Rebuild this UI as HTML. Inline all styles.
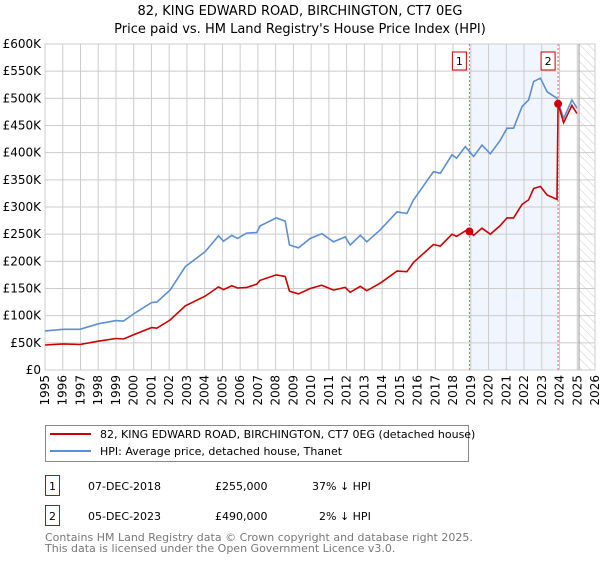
<!DOCTYPE html>
<html><head><meta charset="utf-8"><style>
body{margin:0;background:#fff;font-family:"Liberation Sans","DejaVu Sans",sans-serif;}
text{font-family:"DejaVu Sans","Liberation Sans",sans-serif;}
</style></head><body>
<svg id="chart" width="600" height="560" xmlns="http://www.w3.org/2000/svg">
<defs><pattern id="hatch" width="6" height="6" patternUnits="userSpaceOnUse" patternTransform="rotate(-45)"><line x1="0" y1="0" x2="0" y2="6" stroke="#ccc" stroke-width="1"/></pattern></defs>
<text x="300" y="15" text-anchor="middle" font-size="13">82, KING EDWARD ROAD, BIRCHINGTON, CT7 0EG</text>
<text x="300" y="33" text-anchor="middle" font-size="13">Price paid vs. HM Land Registry's House Price Index (HPI)</text>
<g id="grid"></g><g id="series"></g><g id="axes"></g>
<rect x="45.5" y="425.5" width="423" height="36" fill="#fff" stroke="#888"/>
<line x1="50" y1="434" x2="91" y2="434" stroke="#cc0000" stroke-width="2"/>
<text x="100" y="438" font-size="11">82, KING EDWARD ROAD, BIRCHINGTON, CT7 0EG (detached house)</text>
<line x1="50" y1="451" x2="91" y2="451" stroke="#5b8fd4" stroke-width="2"/>
<text x="100" y="455" font-size="11">HPI: Average price, detached house, Thanet</text>
<g font-size="11">
<rect x="45.5" y="475.5" width="14" height="20" fill="#fff" stroke="#cc0000"/><text x="49" y="490">1</text>
<text x="88" y="490">07-DEC-2018</text><text x="215" y="490">£255,000</text><text x="312" y="490">37% ↓ HPI</text></g>
<g font-size="11">
<rect x="45.5" y="505.5" width="14" height="20" fill="#fff" stroke="#cc0000"/><text x="49" y="520">2</text>
<text x="88" y="520">05-DEC-2023</text><text x="215" y="520">£490,000</text><text x="319" y="520">2% ↓ HPI</text></g>
<text x="45" y="541" font-size="11" fill="#777">Contains HM Land Registry data © Crown copyright and database right 2025.</text>
<text x="45" y="552" font-size="11" fill="#777">This data is licensed under the Open Government Licence v3.0.</text>
</svg>
<script>
const hpiYears=[1995,1996.03,1996.97,1998,1999,1999.42,2000.08,2001,2001.3,2002.05,2002.9,2004.03,2004.78,2005.06,2005.53,2005.85,2006.37,2006.94,2007.12,2008.03,2008.54,2008.78,2009.29,2009.95,2010.6,2011.26,2011.92,2012.2,2012.77,2013.14,2013.9,2014.84,2015.4,2015.77,2016.9,2017.28,2017.94,2018.2,2018.69,2019.16,2019.63,2020.1,2020.66,2021.04,2021.41,2021.89,2022.26,2022.54,2022.92,2023.3,2023.86,2024.23,2024.7,2024.98];
const hpiValues=[72,75,75,85,91,90,105,124,125,147,190,218,247,237,248,242,252,253,265,280,274,230,225,242,251,236,245,230,248,236,258,291,288,313,365,362,396,390,411,393,414,398,423,445,445,485,497,531,537,512,500,463,497,482];
const priceYears=[1995,1996.03,1996.97,1998,1999,1999.42,2000.08,2001,2001.3,2002.05,2002.9,2004.03,2004.78,2005.06,2005.53,2005.85,2006.37,2006.94,2007.12,2008.03,2008.54,2008.78,2009.29,2009.95,2010.6,2011.26,2011.92,2012.2,2012.77,2013.14,2013.9,2014.84,2015.4,2015.77,2016.9,2017.28,2017.94,2018.2,2018.69,2018.92,2019.16,2019.63,2020.1,2020.66,2021.04,2021.41,2021.89,2022.26,2022.54,2022.92,2023.3,2023.86,2023.92,2024.23,2024.7,2024.98];
const priceValues=[46,48,47,53,58,57,66,78,77,92,118,136,153,148,155,151,152,158,165,175,172,145,140,150,156,147,152,143,154,146,160,182,181,198,231,228,250,246,256,255,248,261,250,266,280,280,305,313,334,338,322,314,490,455,487,472];
const saleYears=[2018.92,2023.92];
const saleValues=[255,490];
const saleLabels=["1","2"];
const yTicks=[0,50,100,150,200,250,300,350,400,450,500,550,600];
const yTickLabels=["£0","£50K","£100K","£150K","£200K","£250K","£300K","£350K","£400K","£450K","£500K","£550K","£600K"];
const xTicks=[1995,1996,1997,1998,1999,2000,2001,2002,2003,2004,2005,2006,2007,2008,2009,2010,2011,2012,2013,2014,2015,2016,2017,2018,2019,2020,2021,2022,2023,2024,2025,2026];
const dataEnd=2025.1;
const X0=45,X1=595,Y0=370,Y1=44;
const sx=y=>X0+(y-1995)/(2026-1995)*(X1-X0);
const sy=v=>Y0-v/600*(Y0-Y1);
const NS="http://www.w3.org/2000/svg";
function mk(tag,attrs,parent){const e=document.createElementNS(NS,tag);for(const k in attrs)e.setAttribute(k,attrs[k]);parent.appendChild(e);return e;}
const grid=document.getElementById('grid'),ser=document.getElementById('series'),ax=document.getElementById('axes');
let r=mk('rect',{x:sx(saleYears[0]),y:Y1,width:sx(saleYears[1])-sx(saleYears[0]),height:Y0-Y1,fill:'#eef3fc',opacity:0.8},grid);


r=mk('rect',{x:sx(dataEnd),y:Y1,width:X1-sx(dataEnd),height:Y0-Y1,fill:'url(#hatch)'},grid);


yTicks.forEach((v,i)=>{mk('line',{x1:X0,x2:X1,y1:sy(v),y2:sy(v),stroke:'#ccc'},grid);
 const t=mk('text',{x:X0-4,y:sy(v)+4,'text-anchor':'end','font-size':12},ax);t.textContent=yTickLabels[i];
 
 });
xTicks.forEach(y=>{mk('line',{x1:sx(y),x2:sx(y),y1:Y1,y2:Y0,stroke:'#ccc'},grid);
 const t=mk('text',{x:0,y:0,'text-anchor':'end','font-size':12,transform:`translate(${sx(y)+4},${Y0+5}) rotate(-90)`},ax);t.textContent=y;
 
 });
mk('rect',{x:X0,y:Y1,width:X1-X0,height:Y0-Y1,fill:'none',stroke:'#ccc'},grid);
mk('line',{x1:sx(dataEnd),x2:sx(dataEnd),y1:Y1,y2:Y0,stroke:'#999'},grid);
saleYears.forEach((y,i)=>{const l=mk('line',{x1:sx(y),x2:sx(y),y1:Y1,y2:Y0,stroke:'#e06060','stroke-dasharray':'2,2'},grid);
 
 
 const b=mk('rect',{x:sx(y)-17,y:Y1+8,width:14,height:18,fill:'#fff',stroke:'#cc0000'},ax);
 
 
 const t=mk('text',{x:sx(y)-10,y:Y1+21,'text-anchor':'middle','font-size':11},ax);t.textContent=saleLabels[i];});
const path=(xs,vs)=>xs.map((y,i)=>(i?'L':'M')+sx(y).toFixed(1)+','+sy(vs[i]).toFixed(1)).join('');
let p=mk('path',{d:path(hpiYears,hpiValues),fill:'none',stroke:'#5b8fd4','stroke-width':1.6},ser);


p=mk('path',{d:path(priceYears,priceValues),fill:'none',stroke:'#cc0000','stroke-width':1.6},ser);


saleYears.forEach((y,i)=>{const c=mk('circle',{cx:sx(y),cy:sy(saleValues[i]),r:4,fill:'#cc0000'},ser);
 
 });
</script>
</body></html>
